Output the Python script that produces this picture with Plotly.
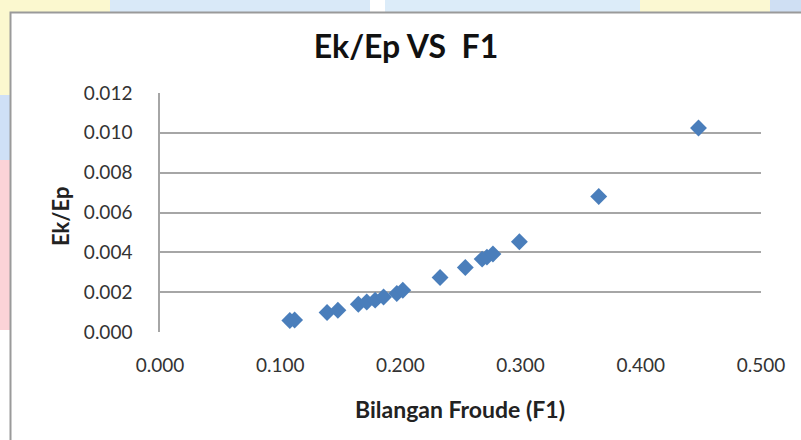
import plotly.graph_objects as go

# Data
froude_f1 = [0.108, 0.112, 0.139, 0.148, 0.165, 0.172, 0.179, 0.186,
             0.197, 0.202, 0.233, 0.254, 0.268, 0.272, 0.277, 0.299,
             0.365, 0.448]
ek_ep = [0.00058, 0.00060, 0.00098, 0.00109, 0.00139, 0.00151, 0.00160, 0.00176,
         0.00193, 0.00210, 0.00274, 0.00324, 0.00366, 0.00376, 0.00392, 0.00453,
         0.00680, 0.01024]

x_ticks = [0.0, 0.1, 0.2, 0.3, 0.4, 0.5]
y_ticks = [0.0, 0.002, 0.004, 0.006, 0.008, 0.010, 0.012]

title_text = "Ek/Ep VS\u00a0\u00a0F1"
x_title = "Bilangan Froude (F1)"
y_title = "Ek/Ep"

W, H = 801, 440
L, R, T, B = 160, 40, 93, 108
PW, PH = W - L - R, H - T - B


def px_x(px):
    return (px - L) / PW


def px_y(py):
    return (H - B - py) / PH


FONT = "Lato"

fig = go.Figure()
fig.add_trace(go.Scatter(
    x=froude_f1, y=ek_ep, mode="markers",
    marker=dict(symbol="diamond", size=13, color="#4a7ebb",
                line=dict(width=0)),
    showlegend=False, hoverinfo="x+y"))

shapes = []
# background decorative strips outside the chart box
bg = [
    (0, 110, 0, 12, "#fbf8cf"), (110, 370, 0, 12, "#d9e9f8"),
    (385, 640, 0, 12, "#dcecf9"), (640, 770, 0, 12, "#fbf8d2"),
    (770, 801, 0, 12, "#cfdff3"),
    (0, 10, 0, 95, "#fbf8cf"), (0, 10, 95, 160, "#cfe0f6"),
    (0, 10, 160, 330, "#fbd3d7"),
]
for x0, x1, y0, y1, c in bg:
    shapes.append(dict(type="rect", xref="paper", yref="paper",
                       x0=px_x(x0), x1=px_x(x1), y0=px_y(y1), y1=px_y(y0),
                       fillcolor=c, line=dict(width=0), layer="below"))
# chart box border
shapes.append(dict(type="rect", xref="paper", yref="paper",
                   x0=px_x(10.5), x1=px_x(820), y0=px_y(460), y1=px_y(12.5),
                   fillcolor="rgba(0,0,0,0)", line=dict(color="#9a9a9a", width=2),
                   layer="below"))

fig.update_layout(
    width=W, height=H,
    margin=dict(l=L, r=R, t=T, b=B),
    paper_bgcolor="white", plot_bgcolor="white",
    font=dict(family=FONT, color="#333333"),
    title=dict(text=title_text, x=406 / W, xanchor="center",
               y=1 - 47 / H, yanchor="middle", yref="container",
               font=dict(family=FONT, size=32, color="#111111", weight="bold")),
    shapes=shapes,
    annotations=[
        dict(text=x_title, xref="paper", yref="paper", x=px_x(460), y=px_y(409),
             xanchor="center", yanchor="middle", showarrow=False,
             font=dict(family=FONT, size=23, color="#222222", weight="bold")),
        dict(text=y_title, xref="paper", yref="paper", x=px_x(60), y=px_y(216),
             xanchor="center", yanchor="middle", showarrow=False, textangle=-90,
             font=dict(family=FONT, size=22, color="#222222", weight="bold")),
    ],
)

fig.update_xaxes(range=[0, 0.5], tickvals=x_ticks, tickformat=".3f",
                 showgrid=False, zeroline=False, showline=False,
                 ticks="", ticklabelstandoff=20,
                 tickfont=dict(family=FONT, size=19, color="#333333"))
fig.update_yaxes(range=[0, 0.012], tickvals=y_ticks, tickformat=".3f",
                 showgrid=True, gridcolor="#a6a6a6", gridwidth=1.5,
                 zeroline=False, showline=True, linecolor="#a6a6a6", linewidth=1.5,
                 ticks="", ticklabelstandoff=22,
                 tickfont=dict(family=FONT, size=19, color="#333333"))

fig.write_html("out.html")
